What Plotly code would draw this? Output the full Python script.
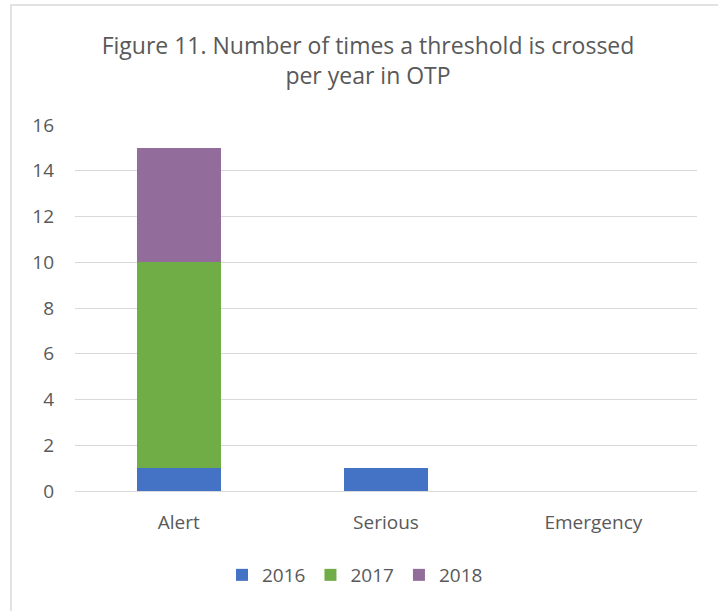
import plotly.graph_objects as go

categories = ["Alert", "Serious", "Emergency"]
years = ["2016", "2017", "2018"]
values_2016 = [1, 1, 0]
values_2017 = [9, 0, 0]
values_2018 = [5, 0, 0]
colors = ["#4472C4", "#70AD47", "#926C9A"]
y_ticks = [0, 2, 4, 6, 8, 10, 12, 14, 16]

series = [values_2016, values_2017, values_2018]
FONT = "Open Sans"
GREY = "#595959"

fig = go.Figure()
for name, vals, col in zip(years, series, colors):
    fig.add_trace(go.Bar(x=categories, y=vals, name=name, marker_color=col,
                         marker_line_width=0))

W, H = 718, 611
PL, PR = 75, 697
PW = PR - PL
fig.update_layout(
    width=W, height=H,
    barmode="stack", bargap=0.595,
    margin=dict(l=PL, r=W - PR, t=125, b=120),
    plot_bgcolor="white", paper_bgcolor="white",
    font=dict(family=FONT, color=GREY, size=19),
    showlegend=True,
    legend=dict(orientation="h", x=(355 - PL) / PW, xanchor="center",
                y=-(575 - 491) / 366, yanchor="middle",
                font=dict(size=19, color=GREY), itemwidth=30, traceorder="normal"),
    title=dict(text="Figure 11. Number of times a threshold is crossed<br>per year in OTP",
               x=368 / W, xanchor="center", y=1 - 54 / H, yanchor="middle",
               font=dict(size=23, color=GREY, family=FONT)),
)
fig.update_yaxes(range=[0, 16], tickvals=y_ticks, showgrid=True, gridcolor="#D9D9D9",
                 gridwidth=1, zeroline=False, showline=False, ticks="",
                 tickfont=dict(size=19, color=GREY), ticklabelstandoff=20)
fig.update_xaxes(showline=True, linecolor="#D9D9D9", linewidth=1, ticks="",
                 tickfont=dict(size=19, color=GREY), ticklabelstandoff=14)

# chart border (Excel chart area outline)
fig.add_shape(type="rect", xref="paper", yref="paper",
              x0=(11 - PL) / PW, x1=(730 - PL) / PW,
              y0=(491 - 620) / 366, y1=(491 - 5) / 366,
              line=dict(color="#D9D9D9", width=1.5), layer="below")

fig.write_html("out.html")
